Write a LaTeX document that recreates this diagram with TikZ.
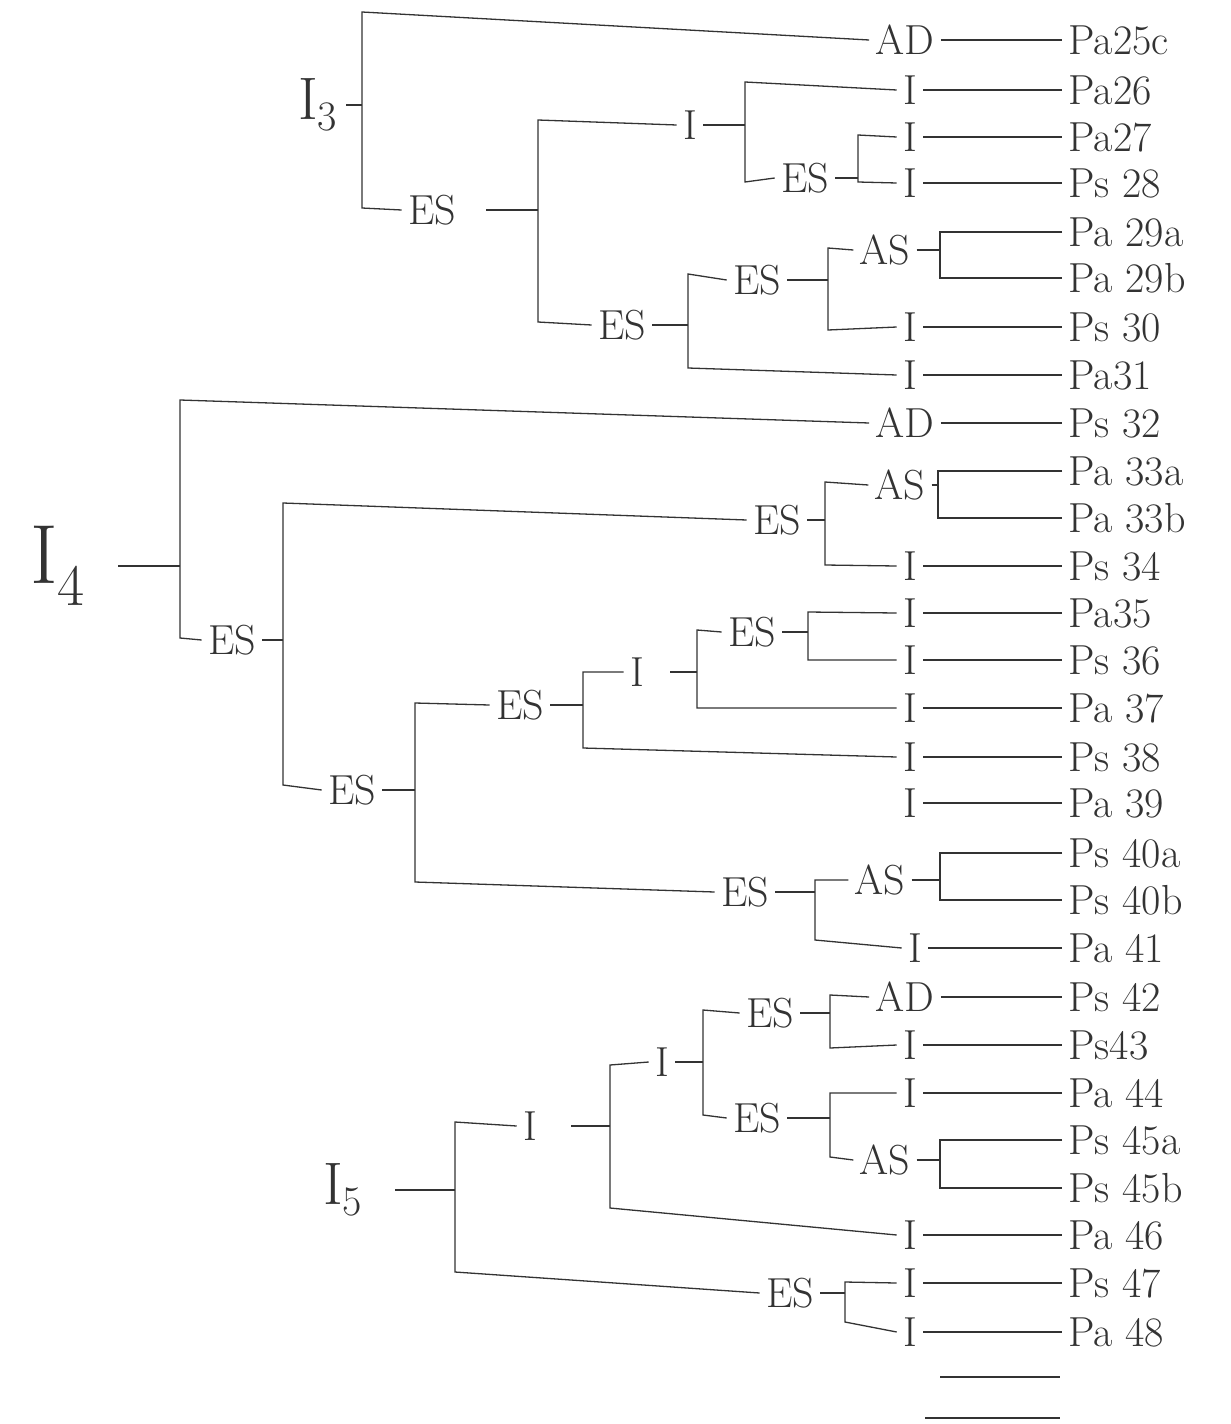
\documentclass[tikz,border=0pt]{standalone}
\usepackage{tikz}

\begin{document}
\begin{tikzpicture}[
  x=0.5pt,
  y=-0.5pt,
  ink/.style={
    draw=black!80,
    line width=0.65pt
  },
  lbl/.style={
    font=\fontsize{21}{25}\selectfont,
    text=black!80,
    inner sep=3pt
  },
  leaf/.style={
    lbl,
    anchor=west
  },
  root/.style={
    font=\fontsize{30}{36}\selectfont,
    text=black!80,
    inner sep=4pt
  }
]

\useasboundingbox[fill=white] (0,0) rectangle (1231,1424);

% Right column
\node[leaf] (r1) at (1062,40) {Pa25c};
\node[leaf] (r2) at (1062,90) {Pa26};
\node[leaf] (r3) at (1062,137) {Pa27};
\node[leaf] (r4) at (1062,183) {Ps 28};
\node[leaf] (r5) at (1062,232) {Pa 29a};
\node[leaf] (r6) at (1062,278) {Pa 29b};
\node[leaf] (r7) at (1062,327) {Ps 30};
\node[leaf] (r8) at (1062,375) {Pa31};
\node[leaf] (r9) at (1062,423) {Ps 32};
\node[leaf] (r10) at (1062,471) {Pa 33a};
\node[leaf] (r11) at (1062,518) {Pa 33b};
\node[leaf] (r12) at (1062,566) {Ps 34};
\node[leaf] (r13) at (1062,613) {Pa35};
\node[leaf] (r14) at (1062,660) {Ps 36};
\node[leaf] (r15) at (1062,708) {Pa 37};
\node[leaf] (r16) at (1062,757) {Ps 38};
\node[leaf] (r17) at (1062,803) {Pa 39};
\node[leaf] (r18) at (1062,853) {Ps 40a};
\node[leaf] (r19) at (1062,900) {Ps 40b};
\node[leaf] (r20) at (1062,948) {Pa 41};
\node[leaf] (r21) at (1062,997) {Ps 42};
\node[leaf] (r22) at (1062,1045) {Ps43};
\node[leaf] (r23) at (1062,1093) {Pa 44};
\node[leaf] (r24) at (1062,1140) {Ps 45a};
\node[leaf] (r25) at (1062,1188) {Ps 45b};
\node[leaf] (r26) at (1062,1235) {Pa 46};
\node[leaf] (r27) at (1062,1283) {Ps 47};
\node[leaf] (r28) at (1062,1332) {Pa 48};

% Middle column
\node[lbl] (m1) at (905,40) {AD};
\node[lbl] (m2) at (910,90) {I};
\node[lbl] (m3) at (910,137) {I};
\node[lbl] (m4) at (910,183) {I};
\node[lbl] (m7) at (910,327) {I};
\node[lbl] (m8) at (910,375) {I};
\node[lbl] (m9) at (905,423) {AD};
\node[lbl] (m12) at (910,566) {I};
\node[lbl] (m13) at (910,613) {I};
\node[lbl] (m14) at (910,660) {I};
\node[lbl] (m15) at (910,708) {I};
\node[lbl] (m16) at (910,757) {I};
\node[lbl] (m17) at (910,803) {I};
\node[lbl] (m20) at (915,948) {I};
\node[lbl] (m21) at (905,997) {AD};
\node[lbl] (m22) at (910,1045) {I};
\node[lbl] (m23) at (910,1093) {I};
\node[lbl] (m26) at (910,1235) {I};
\node[lbl] (m27) at (910,1283) {I};
\node[lbl] (m28) at (910,1332) {I};

% Leaf lines
\foreach \n in {1,2,3,4,7,8,9,12,13,14,15,16,17,20,21,22,23,26,27,28}
  \draw[ink] (m\n.east) -- (r\n.west);

% Empty lines at the foot
\coordinate (e1a) at (940,1377);
\coordinate (e1b) at (1060,1377);
\coordinate (e2a) at (925,1418);
\coordinate (e2b) at (1060,1418);
\draw[ink] (e1a) -- (e1b);
\draw[ink] (e2a) -- (e2b);

% Bars
\coordinate (b1t) at (362,12);    \coordinate (b1b) at (362,208);
\coordinate (b2t) at (538,120);   \coordinate (b2b) at (538,322);
\coordinate (b3t) at (745,82);    \coordinate (b3b) at (745,182);
\coordinate (b4t) at (858,135);   \coordinate (b4b) at (858,182);
\coordinate (b5t) at (688,274);   \coordinate (b5b) at (688,368);
\coordinate (b6t) at (828,248);   \coordinate (b6b) at (828,330);
\coordinate (b7t) at (940,232);   \coordinate (b7b) at (940,278);
\coordinate (b8t) at (180,400);   \coordinate (b8b) at (180,638);
\coordinate (b9t) at (283,503);   \coordinate (b9b) at (283,785);
\coordinate (b10t) at (825,482);  \coordinate (b10b) at (825,565);
\coordinate (b11t) at (938,471);  \coordinate (b11b) at (938,518);
\coordinate (b12t) at (415,703);  \coordinate (b12b) at (415,882);
\coordinate (b13t) at (583,672);  \coordinate (b13b) at (583,748);
\coordinate (b14t) at (697,630);  \coordinate (b14b) at (697,708);
\coordinate (b15t) at (808,612);  \coordinate (b15b) at (808,660);
\coordinate (b16t) at (815,880);  \coordinate (b16b) at (815,940);
\coordinate (b17t) at (940,853);  \coordinate (b17b) at (940,900);
\coordinate (b18t) at (455,1122); \coordinate (b18b) at (455,1272);
\coordinate (b19t) at (610,1065); \coordinate (b19b) at (610,1208);
\coordinate (b20t) at (703,1010); \coordinate (b20b) at (703,1115);
\coordinate (b21t) at (830,995);  \coordinate (b21b) at (830,1048);
\coordinate (b22t) at (830,1093); \coordinate (b22b) at (830,1157);
\coordinate (b23t) at (940,1140); \coordinate (b23b) at (940,1188);
\coordinate (b24t) at (845,1282); \coordinate (b24b) at (845,1322);

% Tree I3
\node[root] (i3) at (318,105) {I\textsubscript{3}};
\node[lbl] (es1) at (432,210) {ES};
\node[lbl] (i1) at (690,125) {I};
\node[lbl] (es3) at (805,178) {ES};
\node[lbl] (es2) at (622,325) {ES};
\node[lbl] (es4) at (757,280) {ES};
\node[lbl] (as1) at (885,250) {AS};

\draw[ink] (i3) -- (i3 -| b1t);
\draw[ink] (m1.west) -- (b1t) -- (b1b) -- (es1.west);
\draw[ink, shorten <=12pt] (es1) -- (es1 -| b2t);
\draw[ink] (i1.west) -- (b2t) -- (b2b) -- (es2.west);
\draw[ink] (i1) -- (i1 -| b3t);
\draw[ink] (m2.west) -- (b3t) -- (b3b) -- (es3.west);
\draw[ink] (es3) -- (es3 -| b4t);
\draw[ink] (m3.west) -- (b4t) -- (b4b) -- (m4.west);
\draw[ink] (es2) -- (es2 -| b5t);
\draw[ink] (es4.west) -- (b5t) -- (b5b) -- (m8.west);
\draw[ink] (es4) -- (es4 -| b6t);
\draw[ink] (as1.west) -- (b6t) -- (b6b) -- (m7.west);
\draw[ink] (as1) -- (as1 -| b7t);
\draw[ink] (r5.west) -- (b7t) -- (b7b) -- (r6.west);

% Tree I4
\node[root, font=\fontsize{42}{48}\selectfont] (i4) at (58,566) {I\textsubscript{4}};
\node[lbl] (es5) at (232,640) {ES};
\node[lbl] (es6) at (777,520) {ES};
\node[lbl] (as2) at (900,485) {AS};
\node[lbl] (es7) at (352,790) {ES};
\node[lbl] (es8) at (520,705) {ES};
\node[lbl] (i2) at (637,672) {I};
\node[lbl] (es10) at (752,632) {ES};
\node[lbl] (es9) at (745,892) {ES};
\node[lbl] (as3) at (880,880) {AS};

\draw[ink, shorten <=12pt] (i4) -- (i4 -| b8t);
\draw[ink] (m9.west) -- (b8t) -- (b8b) -- (es5.west);
\draw[ink] (es5) -- (es5 -| b9t);
\draw[ink] (es6.west) -- (b9t) -- (b9b) -- (es7.west);
\draw[ink] (es6) -- (es6 -| b10t);
\draw[ink] (as2.west) -- (b10t) -- (b10b) -- (m12.west);
\draw[ink] (as2) -- (as2 -| b11t);
\draw[ink] (r10.west) -- (b11t) -- (b11b) -- (r11.west);
\draw[ink] (es7) -- (es7 -| b12t);
\draw[ink] (es8.west) -- (b12t) -- (b12b) -- (es9.west);
\draw[ink] (es8) -- (es8 -| b13t);
\draw[ink] (i2.west) -- (b13t) -- (b13b) -- (m16.west);
\draw[ink, shorten <=10pt] (i2) -- (i2 -| b14t);
\draw[ink] (es10.west) -- (b14t) -- (b14b) -- (m15.west);
\draw[ink] (es10) -- (es10 -| b15t);
\draw[ink] (m13.west) -- (b15t) -- (b15b) -- (m14.west);
\draw[ink] (es9) -- (es9 -| b16t);
\draw[ink] (as3.west) -- (b16t) -- (b16b) -- (m20.west);
\draw[ink] (as3) -- (as3 -| b17t);
\draw[ink] (r18.west) -- (b17t) -- (b17b) -- (r19.west);

% Tree I5
\node[root] (i5) at (343,1190) {I\textsubscript{5}};
\node[lbl] (i6) at (530,1126) {I};
\node[lbl] (i7) at (662,1062) {I};
\node[lbl] (es12) at (770,1013) {ES};
\node[lbl] (es13) at (757,1118) {ES};
\node[lbl] (as4) at (885,1160) {AS};
\node[lbl] (es11) at (790,1293) {ES};

\draw[ink, shorten <=12pt] (i5) -- (i5 -| b18t);
\draw[ink] (i6.west) -- (b18t) -- (b18b) -- (es11.west);
\draw[ink, shorten <=14pt] (i6) -- (i6 -| b19t);
\draw[ink] (i7.west) -- (b19t) -- (b19b) -- (m26.west);
\draw[ink] (i7) -- (i7 -| b20t);
\draw[ink] (es12.west) -- (b20t) -- (b20b) -- (es13.west);
\draw[ink] (es12) -- (es12 -| b21t);
\draw[ink] (m21.west) -- (b21t) -- (b21b) -- (m22.west);
\draw[ink] (es13) -- (es13 -| b22t);
\draw[ink] (m23.west) -- (b22t) -- (b22b) -- (as4.west);
\draw[ink] (as4) -- (as4 -| b23t);
\draw[ink] (r24.west) -- (b23t) -- (b23b) -- (r25.west);
\draw[ink] (es11) -- (es11 -| b24t);
\draw[ink] (m27.west) -- (b24t) -- (b24b) -- (m28.west);

\end{tikzpicture}
\end{document}
